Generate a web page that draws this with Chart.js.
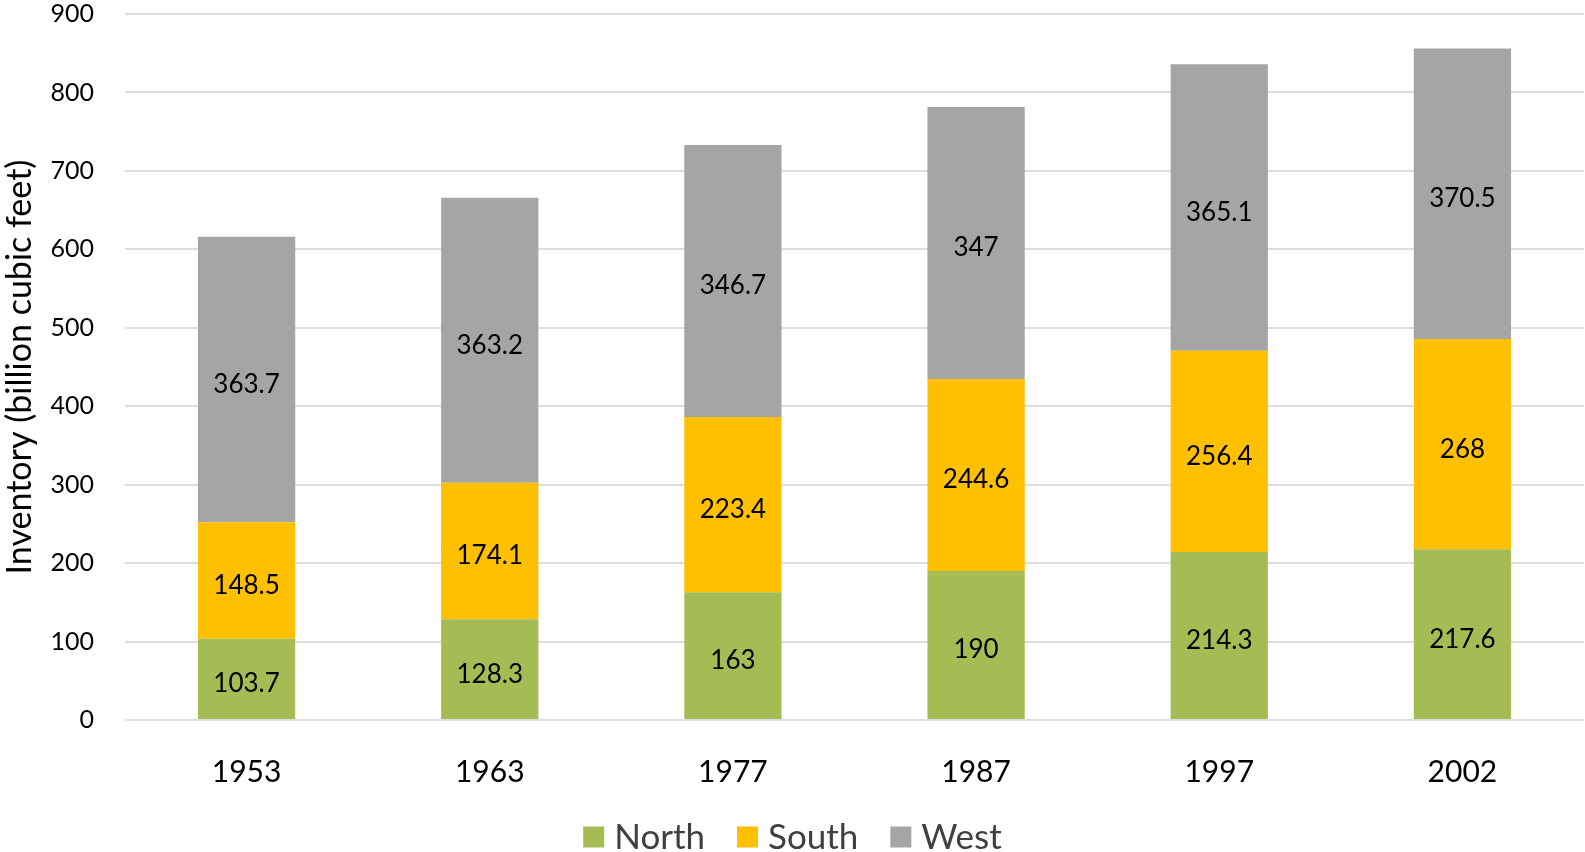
<!DOCTYPE html>
<html>
<head>
<meta charset="utf-8">
<script src="https://cdn.jsdelivr.net/npm/chart.js@4/dist/chart.umd.min.js"></script>
<style>
  html, body { margin: 0; padding: 0; background: #ffffff; }
  #wrap { width: 1585px; height: 852px; position: relative; }
</style>
</head>
<body>
<div id="wrap"><canvas id="c" width="1585" height="852"></canvas></div>
<script>
// Natural gas storage inventory by region
const years = ['1953', '1963', '1977', '1987', '1997', '2002'];
const north = [103.7, 128.3, 163, 190, 214.3, 217.6];
const south = [148.5, 174.1, 223.4, 244.6, 256.4, 268];
const west  = [363.7, 363.2, 346.7, 347, 365.1, 370.5];
const seriesNames = ['North', 'South', 'West'];
const seriesColors = ['#A5BC55', '#FFC000', '#A5A5A5'];

const FONT = 'Lato, "Open Sans", sans-serif';

// Writes each segment's value in the middle of its bar piece
const segmentLabels = {
  id: 'segmentLabels',
  afterDatasetsDraw(chart) {
    const ctx = chart.ctx;
    ctx.save();
    ctx.font = '26px ' + FONT;
    ctx.fillStyle = '#000000';
    ctx.textAlign = 'center';
    ctx.textBaseline = 'middle';
    chart.data.datasets.forEach((ds, i) => {
      const meta = chart.getDatasetMeta(i);
      meta.data.forEach((bar, j) => {
        const y = (bar.y + bar.base) / 2 + 5;
        ctx.fillText(String(ds.data[j]), bar.x, y);
      });
    });
    ctx.restore();
  }
};

// Legend row centred under the chart: square swatch, then series name
const bottomLegend = {
  id: 'bottomLegend',
  afterDraw(chart) {
    const ctx = chart.ctx;
    const box = 21, gapText = 10, gapItem = 32, cy = 837;
    ctx.save();
    ctx.font = '35px ' + FONT;
    ctx.textBaseline = 'middle';
    ctx.textAlign = 'left';
    const items = chart.data.datasets.map(ds => ({
      text: ds.label, color: ds.backgroundColor, w: ctx.measureText(ds.label).width
    }));
    let total = 0;
    items.forEach((it, i) => { total += box + gapText + it.w + (i ? gapItem : 0); });
    let x = (chart.width - total) / 2;
    items.forEach(it => {
      ctx.fillStyle = it.color;
      ctx.fillRect(x, cy - box / 2, box, box);
      x += box + gapText;
      ctx.fillStyle = '#404040';
      ctx.fillText(it.text, x, cy + 1);
      x += it.w + gapItem;
    });
    ctx.restore();
  }
};

new Chart(document.getElementById('c'), {
  type: 'bar',
  data: {
    labels: years,
    datasets: [north, south, west].map((vals, i) => ({
      label: seriesNames[i],
      data: vals,
      backgroundColor: seriesColors[i],
      borderWidth: 0,
      barPercentage: 0.4,
      categoryPercentage: 1.0
    }))
  },
  options: {
    responsive: false,
    animation: false,
    layout: { padding: { top: 14, right: 1, left: 0, bottom: 0 } },
    plugins: {
      tooltip: { enabled: false },
      legend: { display: false }
    },
    scales: {
      x: {
        stacked: true,
        grid: { display: false },
        border: { display: false },
        ticks: { font: { size: 30, family: FONT }, color: '#000000', padding: 26 },
        afterFit(scale) { scale.height = 132; }
      },
      y: {
        stacked: true,
        min: 0,
        max: 900,
        ticks: { stepSize: 100, font: { size: 25, family: FONT }, color: '#000000', padding: 31 },
        grid: { color: '#DDDDDD', lineWidth: 2, drawTicks: false },
        border: { display: false },
        title: {
          display: true,
          text: 'Inventory (billion cubic feet)',
          font: { size: 34, family: FONT },
          color: '#000000',
          padding: { top: 0, bottom: 2 }
        },
        afterFit(scale) {
          scale.width = 125;
          scale.paddingTop = 0;
          scale.paddingBottom = 0;
        }
      }
    }
  },
  plugins: [segmentLabels, bottomLegend]
});
</script>
</body>
</html>
